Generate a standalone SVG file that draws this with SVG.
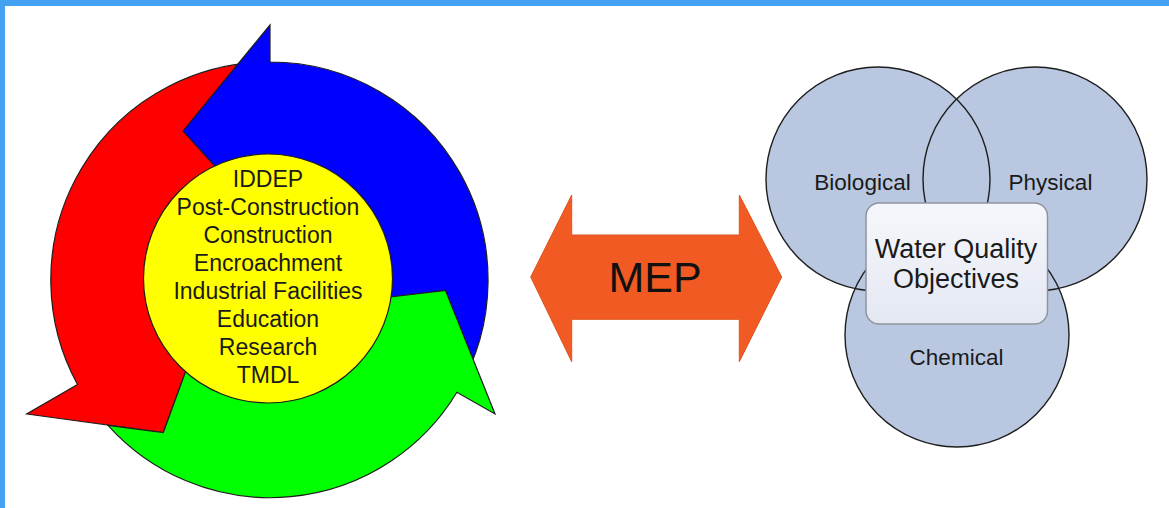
<svg xmlns="http://www.w3.org/2000/svg" width="1169" height="508" viewBox="0 0 1169 508">
<defs>
<style>
.ring{stroke:#1e1e1e;stroke-width:1.2;stroke-linejoin:miter}
.lt{font-family:"Liberation Sans",Arial,sans-serif;font-size:23px;fill:#1a1a1a;text-anchor:middle}
.vf{fill:#b9c8e0;stroke:none}
.vs{fill:none;stroke:#1e1e1e;stroke-width:1.4}
.vt{font-family:"Liberation Sans",Arial,sans-serif;font-size:22.5px;fill:#1a1a1a;text-anchor:middle}
</style>
<linearGradient id="boxg" x1="0" y1="0" x2="0" y2="1">
<stop offset="0" stop-color="#f6f7fc"/>
<stop offset="1" stop-color="#e4e8f2"/>
</linearGradient>
</defs>
<rect x="0" y="0" width="1169" height="508" fill="#ffffff"/>
<rect x="0" y="0" width="1169" height="6" fill="#45a2f2"/>
<rect x="0" y="0" width="5" height="508" fill="#45a2f2"/>

<g id="cycle">
<path id="arrow-red" class="ring" fill="#ff0000" d="M 77.5,384.5 A 218 218 0 0 1 270,62 L 270,160 A 120 120 0 0 0 164.05,336.3 L 206.9,313.6 L 163.3,432.5 L 26.7,414 Z"/>
<path id="arrow-blue" class="ring" fill="#0000ff" d="M 270,62 A 218 218 0 0 1 456.9,392.3 L 372.9,341.8 A 120 120 0 0 0 270,160 L 270,227 L 183,131 L 270,25 Z"/>
<path id="arrow-green" class="ring" fill="#00ff00" d="M 456.9,392.3 A 218 218 0 0 1 108,425.3 L 163.3,432.5 L 187.3,367 A 120 120 0 0 0 372.9,341.8 L 314,306 L 445.5,290.5 L 495,414 Z"/>
</g>

<g id="programs">
<circle cx="268" cy="278.5" r="124.5" fill="#ffff00" stroke="#1e1e1e" stroke-width="1.2"/>
<text class="lt" x="268" y="187">IDDEP</text>
<text class="lt" x="268" y="215">Post-Construction</text>
<text class="lt" x="268" y="243">Construction</text>
<text class="lt" x="268" y="271">Encroachment</text>
<text class="lt" x="268" y="299">Industrial Facilities</text>
<text class="lt" x="268" y="327">Education</text>
<text class="lt" x="268" y="355">Research</text>
<text class="lt" x="268" y="383">TMDL</text>
</g>

<g id="connectors">
<g id="mep">
<polygon points="530.7,277 571.7,195 571.7,235 739.3,235 739.3,195 781.7,277 739.3,361.7 739.3,319.3 571.7,319.3 571.7,361.7" fill="#f15a22" stroke="#dc5520" stroke-width="1"/>
<text x="655" y="292" font-family="'Liberation Sans',Arial,sans-serif" font-size="43" fill="#111111" text-anchor="middle">MEP</text>
</g>
</g>

<g id="venn">
<g id="fills">
<circle class="vf" cx="878" cy="179" r="112"/>
<circle class="vf" cx="1035" cy="179" r="112"/>
<circle class="vf" cx="957" cy="335" r="112"/>
</g>
<g id="biological">
<circle class="vs" cx="878" cy="179" r="112"/>
<text class="vt" x="862.5" y="190">Biological</text>
</g>
<g id="physical">
<circle class="vs" cx="1035" cy="179" r="112"/>
<text class="vt" x="1050.5" y="190">Physical</text>
</g>
<g id="chemical">
<circle class="vs" cx="957" cy="335" r="112"/>
<text class="vt" x="956.5" y="365">Chemical</text>
</g>
<g id="water-quality">
<rect x="866" y="203" width="181.5" height="121" rx="13" ry="13" fill="url(#boxg)" stroke="#8f959f" stroke-width="1.5"/>
<text x="956" y="258" font-family="'Liberation Sans',Arial,sans-serif" font-size="27" fill="#1a1a1a" text-anchor="middle">Water Quality</text>
<text x="956" y="288" font-family="'Liberation Sans',Arial,sans-serif" font-size="27" fill="#1a1a1a" text-anchor="middle">Objectives</text>
</g>
</g>
</svg>
